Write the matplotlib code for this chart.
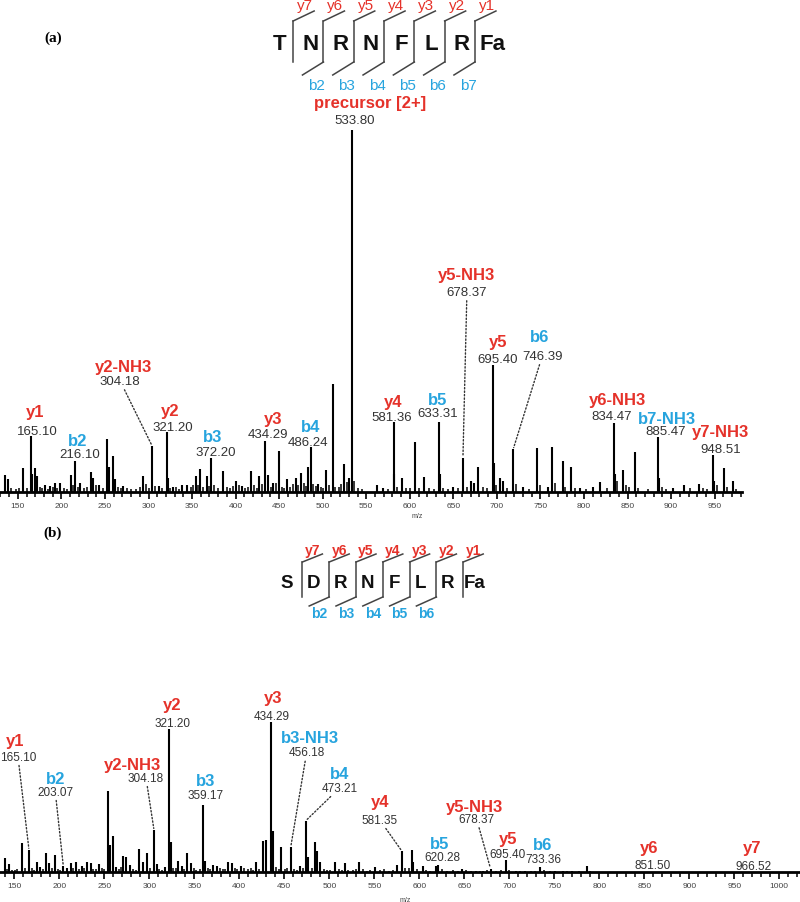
import numpy as np
import matplotlib
matplotlib.use('Agg')
import matplotlib.pyplot as plt
from matplotlib.ticker import MultipleLocator

plt.rcParams['font.family'] = ['Liberation Sans', 'DejaVu Sans']

RED = '#e5322a'
BLUE = '#27a4de'
GREY = '#333333'

# ---- panel (a): TNRNFLRFa, peaks (m/z, relative intensity %) ----
a_mz = [135.2, 139.0, 156.3, 165.1, 166.1, 169.7, 171.6, 181.2, 187.0, 192.6, 198.4,
        211.0, 216.1, 221.3, 233.6, 236.6, 243.5, 252.0, 255.0, 259.0, 261.5, 271.0,
        294.0, 304.2, 312.4, 321.2, 322.2, 328.5, 338.1, 343.8, 354.5, 359.1, 367.5,
        372.2, 385.2, 400.5, 407.0, 417.3, 427.2, 434.3, 437.5, 443.3, 450.0, 458.7,
        469.3, 474.7, 483.5, 486.2, 495.0, 503.8, 511.6, 524.0, 530.5, 533.8, 562.0,
        569.6, 581.4, 582.4, 590.7, 605.8, 616.3, 633.3, 634.3, 650.0, 661.0, 670.3,
        673.7, 678.0, 695.4, 696.4, 703.6, 706.6, 718.8, 730.3, 746.4, 759.0, 763.6,
        775.5, 784.7, 795.4, 810.0, 818.4, 834.5, 835.5, 844.4, 858.5, 885.5, 886.5,
        902.5, 915.2, 932.0, 948.5, 949.5, 960.7, 970.7]
a_int = [4.7, 3.6, 6.5, 15.5, 5.0, 6.5, 4.5, 2.0, 1.7, 2.5, 2.6,
         4.8, 8.6, 2.6, 5.4, 4.0, 2.0, 14.6, 6.8, 10.0, 3.6, 1.7,
         4.4, 12.7, 1.7, 16.6, 4.0, 1.4, 2.0, 2.0, 4.5, 6.3, 4.4,
         9.4, 5.9, 3.1, 1.7, 5.9, 4.5, 14.1, 4.8, 2.5, 11.3, 3.6,
         3.9, 5.2, 6.8, 12.4, 2.2, 6.2, 29.8, 7.7, 4.0, 100.0, 2.0,
         1.0, 19.3, 5.0, 4.0, 13.8, 4.1, 19.3, 5.0, 1.4, 9.4, 3.0,
         2.5, 6.9, 35.0, 8.0, 3.8, 3.0, 11.9, 1.4, 12.1, 1.4, 12.3,
         8.6, 6.8, 1.1, 1.4, 2.8, 19.0, 5.0, 6.2, 11.1, 15.1, 4.0,
         1.1, 1.8, 2.3, 10.3, 3.0, 6.5, 3.1]

# low-level noise peaks along the baseline
a_noise_mz = [142.5, 147.8, 151.0, 160.2, 175.3, 177.9, 184.2, 190.1, 195.5, 203.3, 206.8,
              213.5, 218.7, 225.9, 229.4, 239.8, 247.2, 265.3, 268.1, 275.6, 280.4, 286.0,
              290.7, 297.2, 300.5, 307.9, 315.1, 325.0, 331.8, 334.6, 348.3, 351.0, 356.7,
              362.8, 370.0, 375.4, 379.8, 389.6, 393.0, 397.2, 404.0, 410.3, 413.7, 420.9,
              424.0, 430.6, 440.6, 446.8, 453.1, 455.8, 462.2, 465.6, 472.0, 478.1, 480.8,
              489.4, 492.3, 498.6, 500.9, 507.0, 514.4, 518.5, 521.2, 527.8, 536.0, 540.2,
              545.0, 575.3, 585.6, 595.5, 600.1, 610.4, 622.0, 627.3, 638.0, 644.1, 655.7,
              665.2, 684.0, 689.0, 699.5, 711.2, 722.0, 737.0, 749.4, 767.0, 778.7, 789.2,
              802.0, 826.7, 838.0, 848.0, 851.2, 862.2, 873.4, 889.7, 894.6, 921.8, 936.5,
              940.9, 952.8, 964.0, 974.2]
a_noise_int = [1.2, 0.8, 1.0, 1.1, 1.5, 1.0, 0.9, 1.3, 1.0, 1.2, 0.9,
               2.0, 1.5, 1.0, 1.3, 1.8, 1.0, 1.5, 1.2, 1.0, 0.8, 0.7,
               1.5, 2.1, 1.0, 1.6, 1.2, 1.0, 1.3, 0.8, 1.4, 2.0, 1.8,
               1.5, 1.7, 2.0, 1.0, 1.3, 1.0, 1.6, 2.0, 1.1, 1.4, 1.8,
               1.2, 2.2, 1.5, 2.4, 1.3, 1.1, 1.5, 2.2, 1.8, 2.5, 1.6,
               2.3, 1.7, 1.5, 1.2, 1.9, 1.4, 1.3, 2.1, 2.8, 3.0, 1.0,
               0.8, 0.9, 1.5, 1.0, 1.2, 1.1, 1.0, 0.8, 1.2, 0.9, 1.0,
               1.4, 1.3, 1.0, 2.0, 1.2, 2.2, 0.8, 2.0, 2.5, 1.5, 1.0,
               0.7, 1.0, 3.0, 2.0, 1.3, 1.0, 0.8, 1.5, 0.7, 1.0, 1.2,
               0.8, 2.0, 1.3, 0.9]

a_ion = ['y1', 'b2', 'y2-NH3', 'y2', 'b3', 'y3', 'b4', 'precursor [2+]', 'y4', 'b5',
         'y5-NH3', 'y5', 'b6', 'y6-NH3', 'b7-NH3', 'y7-NH3']
a_val = ['165.10', '216.10', '304.18', '321.20', '372.20', '434.29', '486.24', '533.80',
         '581.36', '633.31', '678.37', '695.40', '746.39', '834.47', '885.47', '948.51']
a_peak = [165.1, 216.1, 304.2, 321.2, 372.2, 434.3, 486.2, 533.8,
          581.4, 633.3, 661.0, 695.4, 718.8, 834.5, 885.5, 948.5]
a_kind = ['y', 'b', 'y', 'y', 'b', 'y', 'b', 'y', 'y', 'b', 'y', 'y', 'b', 'y', 'b', 'y']

# ---- panel (b): SDRNFLRFa ----
b_mz = [139.6, 144.4, 158.1, 166.2, 175.4, 178.4, 184.8, 188.8, 195.1, 204.3, 208.1,
        212.9, 218.4, 224.8, 231.0, 234.8, 244.3, 253.6, 256.2, 259.9, 262.9, 271.0,
        274.0, 278.4, 288.8, 293.2, 297.7, 305.1, 308.1, 317.3, 322.1, 323.7, 332.1,
        335.9, 341.4, 345.9, 359.9, 361.8, 370.3, 374.7, 387.0, 391.4, 401.4, 418.4,
        426.6, 429.2, 434.8, 437.0, 446.2, 457.0, 467.3, 473.7, 476.6, 484.3, 486.6,
        489.6, 506.2, 517.3, 533.2, 550.7, 575.4, 580.3, 591.4, 593.3, 603.6, 618.4,
        621.0, 647.0, 662.9, 670.3, 679.2, 696.2, 707.3, 717.3, 734.0, 750.7, 759.2,
        769.2, 785.9]
b_int = [9.1, 5.3, 19.3, 14.9, 6.4, 3.3, 12.7, 6.0, 11.3, 4.2, 3.0,
         6.0, 6.9, 3.8, 6.9, 6.0, 5.3, 53.8, 18.0, 23.8, 3.3, 10.9,
         9.8, 5.0, 15.3, 6.7, 12.4, 28.2, 5.3, 3.3, 95.3, 19.8, 7.6,
         3.8, 12.4, 6.0, 44.9, 7.6, 5.0, 3.8, 6.7, 6.0, 3.8, 6.7,
         20.7, 21.5, 100.0, 27.5, 16.4, 16.4, 3.8, 34.2, 10.2, 20.2, 14.2,
         6.9, 6.7, 6.0, 6.7, 3.3, 5.0, 14.2, 14.9, 6.7, 3.8, 4.2,
         5.0, 2.0, 1.0, 1.0, 2.0, 8.2, 0.7, 1.0, 3.6, 0.7, 0.7,
         1.0, 3.8]

b_noise_mz = [141.8, 147.5, 150.6, 153.0, 161.5, 169.8, 172.0, 181.5, 191.6, 198.8, 201.0,
              215.3, 221.7, 227.6, 237.9, 241.0, 247.5, 250.0, 266.2, 268.7, 281.7, 284.9,
              300.9, 311.2, 314.5, 326.7, 329.2, 338.7, 349.1, 352.2, 355.8, 365.4, 367.8,
              378.0, 381.5, 384.3, 394.8, 397.7, 405.0, 409.1, 412.5, 415.3, 421.7, 440.9,
              443.5, 450.4, 453.2, 460.6, 463.8, 470.2, 480.2, 493.5, 497.4, 501.0, 510.3,
              513.6, 521.0, 526.4, 529.7, 537.0, 541.5, 545.2, 556.5, 561.0, 566.8, 570.3,
              584.5, 588.0, 597.0, 607.8, 612.0, 625.0, 630.2, 637.4, 642.5, 652.0, 657.5,
              667.0, 674.8, 685.0, 690.2, 700.0, 712.0, 724.0, 729.0, 738.0, 745.0, 764.0,
              777.0, 790.0]
b_noise_int = [2.0, 1.5, 1.2, 2.2, 3.0, 2.4, 1.5, 2.2, 2.8, 2.0, 1.5,
               2.6, 2.0, 3.0, 2.2, 1.8, 2.5, 2.0, 2.0, 3.5, 2.2, 1.6,
               2.8, 2.0, 1.6, 3.0, 2.4, 2.0, 2.4, 1.6, 2.0, 2.8, 2.1,
               2.6, 1.7, 2.2, 2.5, 1.8, 3.0, 2.0, 2.4, 1.6, 2.0, 3.2,
               2.2, 2.0, 2.6, 2.0, 1.6, 2.4, 3.0, 2.0, 1.5, 1.4, 2.0,
               1.2, 1.5, 1.2, 1.8, 2.2, 1.0, 1.5, 1.2, 1.7, 1.0, 1.4,
               2.5, 3.0, 1.8, 1.5, 1.0, 1.8, 1.0, 1.2, 1.0, 1.2, 0.8,
               0.8, 1.2, 1.0, 1.3, 1.6, 0.9, 1.0, 0.8, 1.2, 0.8, 0.6,
               0.8, 0.9]

b_ion = ['y1', 'b2', 'y2-NH3', 'y2', 'b3', 'y3', 'b3-NH3', 'b4', 'y4', 'b5',
         'y5-NH3', 'y5', 'b6', 'y6', 'y7']
b_val = ['165.10', '203.07', '304.18', '321.20', '359.17', '434.29', '456.18', '473.21',
         '581.35', '620.28', '678.37', '695.40', '733.36', '851.50', '966.52']
b_peak = [166.2, 204.3, 305.1, 322.1, 359.9, 434.8, 457.0, 473.7,
          580.3, 618.4, 679.2, 696.2, 734.0, 851.5, 966.5]
b_kind = ['y', 'b', 'y', 'y', 'b', 'y', 'b', 'b', 'y', 'b', 'y', 'y', 'b', 'y', 'y']

seq_a = ['T', 'N', 'R', 'N', 'F', 'L', 'R', 'Fa']
seq_b = ['S', 'D', 'R', 'N', 'F', 'L', 'R', 'Fa']

# label layout: (dx, dy) offsets in pixels from the peak top, for the value and the ion name
a_val_off = [(6, 5), (4, 7), (-32, 65), (6, 5), (4, 6), (2, 7), (-3, 5), (3, 10),
             (-2, 5), (-1, 9), (4, 166), (5, 6), (29, 93), (-2, 7), (7, 6), (7, 6)]
a_ion_off = [(4, 24), (2, 20), (-29, 80), (3, 21), (1, 21), (8, 22), (0, 21), (18, 28),
             (0, 21), (-1, 23), (4, 183), (5, 24), (26, 112), (3, 24), (9, 19), (7, 23)]
a_dotted = [2, 10, 12]
b_val_off = [(-11, 93), (-8, 74), (-8, 52), (3, 6), (2, 10), (1, 6), (16, 95), (34, 33),
             (-22, 31), (6, 9), (-14, 50), (2, 6), (3, 8), (7, 7), (4, 6)]
b_ion_off = [(-14, 109), (-8, 87), (-21, 65), (3, 25), (2, 24), (2, 25), (19, 110), (34, 47),
             (-22, 49), (4, 22), (-16, 63), (2, 21), (3, 22), (3, 24), (3, 24)]
b_dotted = [0, 1, 2, 6, 7, 8, 10]


def spectrum(ax, mz, inten, noise_mz, noise_int, xlim, ylim_top, xlabel_pos):
    ax.vlines(noise_mz, 0, noise_int, color='black', lw=1.1)
    ax.vlines(mz, 0, inten, color='black', lw=1.5)
    ax.set_xlim(*xlim)
    ax.set_ylim(0, ylim_top)
    for s in ['left', 'right', 'top']:
        ax.spines[s].set_visible(False)
    ax.spines['bottom'].set_linewidth(2)
    ax.set_yticks([])
    ax.xaxis.set_major_locator(MultipleLocator(50))
    ax.xaxis.set_minor_locator(MultipleLocator(10))
    ax.tick_params(axis='x', which='major', direction='out', length=5, width=1.2,
                   labelsize=6, labelcolor='#444444', pad=2)
    ax.tick_params(axis='x', which='minor', direction='out', length=3.5, width=1.1)
    ax.set_xlabel('m/z', fontsize=5, color='#444444')
    ax.xaxis.set_label_coords(*xlabel_pos)
    ax.patch.set_alpha(0)


def label_ions(ax, peaks, mz, inten, ions, vals, kinds, val_off, ion_off, dotted,
               ion_size, val_size):
    for i, name in enumerate(ions):
        x = peaks[i]
        h = inten[mz.index(x)] if x in mz else 0
        col = RED if kinds[i] == 'y' else BLUE
        arrow = None
        if i in dotted:
            arrow = dict(arrowstyle='-', linestyle=(0, (1, 1.5)), lw=1, color=GREY,
                         shrinkA=0, shrinkB=1)
        ax.annotate(vals[i], xy=(x, h), xytext=val_off[i], textcoords='offset pixels',
                    ha='center', va='center', fontsize=val_size, color=GREY,
                    arrowprops=arrow)
        ax.annotate(name, xy=(x, h), xytext=ion_off[i], textcoords='offset pixels',
                    ha='center', va='center', fontsize=ion_size, color=col,
                    fontweight='bold')


def sequence(ax, residues, x0, step, shift, y_let, top, bot, diag, rise, drop,
             y_lab, b_lab, y_dx, b_dx, let_size, lab_size, weight, skip_b):
    xs = [x0 + i * step for i in range(len(residues))]
    for x, r in zip(xs, residues):
        ax.text(x, y_let, r, ha='center', va='center', fontsize=let_size,
                fontweight='bold', color='#111111')
    n = len(residues)
    for i in range(n - 1):
        vx = (xs[i] + xs[i + 1]) / 2 + shift
        ax.plot([vx, vx], [top, bot], color='#444444', lw=1.1)
        ax.plot([vx, vx + diag], [top, top - rise], color='#444444', lw=1.1)
        ax.text(vx + y_dx, y_lab, 'y%d' % (n - 1 - i), ha='center', va='center',
                fontsize=lab_size, color=RED, fontweight=weight)
        if i == 0 or (i + 1) in skip_b:
            continue
        ax.plot([vx, vx - diag], [bot, bot + drop], color='#444444', lw=1.1)
        ax.text(vx + b_dx, b_lab, 'b%d' % (i + 1), ha='center', va='center',
                fontsize=lab_size, color=BLUE, fontweight=weight)


fig = plt.figure(figsize=(8, 9.03), dpi=100)

ax_a = fig.add_axes([0, 410 / 903, 742 / 800, 493 / 903])
spectrum(ax_a, a_mz, a_int, a_noise_mz, a_noise_int, (129.5, 981.4), 136.2,
         (417 / 742, -0.041))
label_ions(ax_a, a_peak, a_mz, a_int, a_ion, a_val, a_kind, a_val_off, a_ion_off,
           a_dotted, 12, 9.5)

ax_b = fig.add_axes([0, 30 / 903, 1.0, 343 / 903])
spectrum(ax_b, b_mz, b_int, b_noise_mz, b_noise_int, (134, 1023), 229.1,
         (405 / 800, -0.07))
label_ions(ax_b, b_peak, b_mz, b_int, b_ion, b_val, b_kind, b_val_off, b_ion_off,
           b_dotted, 12, 8.5)

# overlay in pixel units for the sequence schematics and panel letters
ov = fig.add_axes([0, 0, 1, 1])
ov.set_xlim(0, 800)
ov.set_ylim(903, 0)
ov.axis('off')
ov.patch.set_alpha(0)

sequence(ov, seq_a, 280, 30.3, -2, 45, 22, 63, 21, 10, 13, 6, 86, 12, -7,
         16, 11, 'normal', [])
sequence(ov, seq_b, 287, 26.8, 2, 584, 563, 598, 20, 8, 9, 551, 614, 10, -10,
         13.5, 10, 'bold', [7])

ov.text(53, 38, '(a)', ha='center', va='center', fontsize=11, fontweight='bold',
        family=['Liberation Serif', 'DejaVu Serif'])
ov.text(53, 533, '(b)', ha='center', va='center', fontsize=11, fontweight='bold',
        family=['Liberation Serif', 'DejaVu Serif'])

fig.savefig('out.png', dpi=100)
